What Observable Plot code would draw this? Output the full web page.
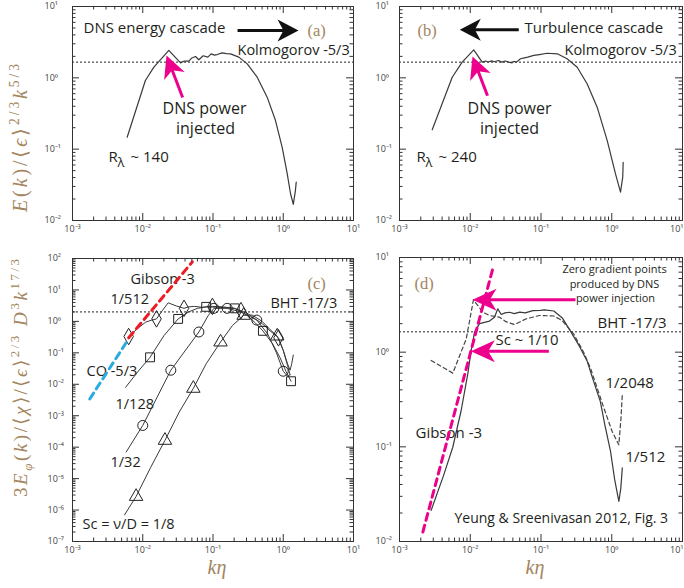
<!DOCTYPE html>
<html><head><meta charset="utf-8">
<script src="https://cdn.jsdelivr.net/npm/d3@7"></script>
<script src="https://cdn.jsdelivr.net/npm/@observablehq/plot@0.6"></script>
<style>
html,body{margin:0;padding:0;background:#fff;}
#wrap{position:relative;width:684px;height:588px;overflow:hidden;font-family:"Open Sans",sans-serif;}
.pl{position:absolute;}
</style></head>
<body><div id="wrap"></div>
<script>
// ---------- data ----------
const xDecades = [1e-3, 1e-2, 1e-1, 1, 10];
const yDecadesAB = [1e-2, 1e-1, 1, 10];
const yDecadesC = [1e-7, 1e-6, 1e-5, 1e-4, 1e-3, 1e-2, 1e-1, 1, 10, 100];
const yDecadesD = [1e-2, 1e-1, 1, 10];

// panel (a) compensated energy spectrum, R_lambda ~ 140
const specA = [[0.006,0.147],[0.0109,0.918],[0.0144,1.41],[0.0235,2.42],[0.0345,1.62],[0.039,1.72],[0.0453,1.71],[0.05,1.9],[0.0564,1.99],[0.0628,1.79],[0.0725,2.04],[0.0843,1.95],[0.0942,2.17],[0.105,2.08],[0.1147,2.12],[0.135,2.24],[0.155,2.18],[0.1775,2.17],[0.233,1.95],[0.307,1.57],[0.426,1.02],[0.59,0.536],[0.776,0.252],[0.966,0.106],[1.14,0.045],[1.27,0.0237],[1.39,0.0168],[1.49,0.0263],[1.53,0.0345]];
// panel (b) R_lambda ~ 240
const specB = [[0.0029,0.187],[0.00556,1.02],[0.00769,1.66],[0.0112,2.47],[0.01475,1.66],[0.0165,1.72],[0.018,1.67],[0.02,1.73],[0.022,1.68],[0.025,1.75],[0.028,1.66],[0.031,1.72],[0.035,1.66],[0.039,1.62],[0.0413,1.7],[0.045,1.66],[0.0513,1.85],[0.058,1.9],[0.065,1.95],[0.079,2.06],[0.095,2.12],[0.1225,2.21],[0.17,2.17],[0.234,1.85],[0.325,1.41],[0.45,0.82],[0.622,0.388],[0.863,0.132],[1.13,0.045],[1.33,0.025],[1.43,0.0405],[1.45,0.0656]];
const kolmogorovLevel = [1.66];

// panel (c) scalar spectra for several Sc
const c512 = [[0.0063,0.33],[0.0085,0.6],[0.011,0.95],[0.0135,1.1],[0.0157,1.2],[0.019,2.2],[0.023,3.9],[0.03,3.1],[0.0387,2.6],[0.045,2.9],[0.055,3.0],[0.07,2.8],[0.098,3.0],[0.14,2.9],[0.2,2.6],[0.25,2.2],[0.32,1.7],[0.4,1.2],[0.5,0.85],[0.65,0.5],[0.855,0.3],[1.0,0.12],[1.15,0.045],[1.25,0.028],[1.32,0.045],[1.39,0.085]];
const c512Marks = [[0.0063,0.33],[0.0157,1.2],[0.0387,2.6],[0.098,3.0],[0.25,2.2],[0.855,0.3]];
const c128 = [[0.0057,0.008],[0.0085,0.025],[0.0127,0.072],[0.02,0.35],[0.0319,1.2],[0.045,2.0],[0.06,2.6],[0.08,2.9],[0.12,2.8],[0.204,2.6],[0.3,1.6],[0.4,0.9],[0.513,0.5],[0.7,0.2],[0.9,0.07],[1.1,0.025],[1.29,0.0125]];
const c128Marks = [[0.0127,0.072],[0.0319,1.2],[0.08,2.9],[0.204,2.6],[0.513,0.5],[1.29,0.0125]];
const c32 = [[0.0058,7e-5],[0.01,0.00049],[0.0251,0.028],[0.063,0.46],[0.085,1.5],[0.103,2.6],[0.159,2.6],[0.25,2.0],[0.42,1.1],[0.6,0.4],[0.8,0.1],[1.0,0.026],[1.15,0.018],[1.25,0.02]];
const c32Marks = [[0.01,0.00049],[0.0251,0.028],[0.063,0.46],[0.103,2.6],[0.159,2.6],[0.42,1.1],[1.0,0.026]];
const c8 = [[0.0055,7e-7],[0.00804,2.7e-6],[0.013,2.3e-5],[0.0207,1.64e-4],[0.033,1.3e-3],[0.0525,0.0074],[0.08,0.045],[0.128,0.22],[0.19,0.75],[0.273,1.55],[0.36,1.6],[0.5,1.0],[0.65,0.55],[0.82,0.34],[1.0,0.12],[1.15,0.04],[1.25,0.02]];
const c8Marks = [[0.00804,2.7e-6],[0.0207,1.64e-4],[0.0525,0.0074],[0.128,0.22],[0.273,1.55],[0.82,0.34]];
const gibsonC = [[0.0063,0.3],[0.0508,78]];
const coC = [[0.00176,0.0034],[0.0058,0.21]];
const bhtLevelC = [2.0];

// panel (d)
const d512 = [[0.0028,0.0213],[0.0042,0.05],[0.00566,0.099],[0.00744,0.242],[0.00923,0.59],[0.0103,1.04],[0.0115,1.63],[0.0135,2.0],[0.0187,2.13],[0.022,2.34],[0.0245,2.87],[0.0274,2.5],[0.031,2.6],[0.0359,2.64],[0.042,2.55],[0.05,2.65],[0.06,2.6],[0.0766,2.75],[0.098,2.77],[0.112,2.8],[0.152,2.72],[0.2,2.3],[0.261,1.67],[0.35,1.15],[0.45,0.8],[0.55,0.5],[0.69,0.3],[0.8,0.17],[0.96,0.09],[1.1,0.045],[1.26,0.0265],[1.34,0.036],[1.41,0.06]];
const d2048 = [[0.0028,0.817],[0.00566,0.6],[0.00877,1.38],[0.0111,3.57],[0.0151,2.64],[0.0187,2.44],[0.0259,2.34],[0.032,2.1],[0.0422,1.96],[0.0618,2.25],[0.0953,2.44],[0.152,2.41],[0.2,2.15],[0.291,1.55],[0.4,1.0],[0.5,0.68],[0.77,0.26],[1.01,0.146],[1.15,0.12],[1.26,0.105],[1.35,0.2],[1.41,0.357]];
const gibsonD = [[0.00214,0.0126],[0.0208,7.6]];
const bhtLevelD = [1.64];

// arrow tips (data coordinates)
const tipA_black = [1.65, 4.6], tipA_mag = [0.0218, 2.06];
const tipB_black = [0.00711, 4.71], tipB_mag = [0.01076, 1.99];
const tipD_zero = [0.01076, 3.57], tipD_sc = [0.0102, 1.02];

// ---------- helpers ----------
const INK = "#231f20", TAN = "#a3845c", MAG = "#ec008c";
const supDigits = "⁰¹²³⁴⁵⁶⁷⁸⁹";
const fmt = d => { const e = Math.round(Math.log10(d)); return "10" + String(e).replace("-", "⁻").replace(/\d/g, c => supDigits[+c]); };
function minor(dom) {
  const out = [];
  for (let e = Math.round(Math.log10(dom[0])); e < Math.round(Math.log10(dom[1])); e++)
    for (let m = 2; m <= 9; m++) out.push(m * Math.pow(10, e));
  return out;
}
function note(t, dx, dy, o = {}) {
  return Plot.text([t], {text: d => d, frameAnchor: "top-left", dx, dy, textAnchor: "start", lineAnchor: "middle", fontSize: 15, fill: INK, fontFamily: "Open Sans", ...o});
}
function tag(t, dx, dy) {
  return note(t, dx, dy, {fontFamily: "Liberation Serif", fontSize: 16.5, fill: TAN});
}
function arrow(tip, {length, rotate, color, width = 3, headLen = 20, headHalf = 10}) {
  const shaft = {draw(ctx, l) { ctx.moveTo(0, 0); ctx.lineTo(0, -l + headLen * 0.6); }};
  const head = {draw(ctx, l) { ctx.moveTo(0, -l); ctx.lineTo(-headHalf, -l + headLen); ctx.lineTo(0, -l + headLen * 0.72); ctx.lineTo(headHalf, -l + headLen); ctx.closePath(); }};
  return [
    Plot.vector([tip], {x: d => d[0], y: d => d[1], anchor: "end", length, rotate, shape: shaft, stroke: color, strokeWidth: width, strokeLinecap: "butt", fill: "none"}),
    Plot.vector([tip], {x: d => d[0], y: d => d[1], anchor: "end", length, rotate, shape: head, fill: color, stroke: "none"})
  ];
}
const ln = (data, o = {}) => Plot.line(data, {x: d => d[0], y: d => d[1], stroke: "#3a3a3a", strokeWidth: 1.2, ...o});
const mk = (data, symbol) => Plot.dot(data, {x: d => d[0], y: d => d[1], symbol, r: 5, stroke: "#222", strokeWidth: 1, fill: "none"});

function panel({yd, yTicks, w, h, ml, mr, mt, mb, yPad, lastEnd, marks}) {
  const xd = [1e-3, 10];
  const iw = w - ml - mr, ih = h - mt - mb;
  const xm = minor(xd), ym = minor(yd);
  const axOpt = {tickSize: 0, tickPadding: 5, tickFormat: fmt, label: null, fontSize: 9, fill: "#444"};
  const xAxes = lastEnd
    ? [Plot.axisX({...axOpt, ticks: xDecades.slice(0, -1)}), Plot.axisX({...axOpt, ticks: xDecades.slice(-1), textAnchor: "end", dx: 1})]
    : [Plot.axisX({...axOpt, ticks: xDecades})];
  return Plot.plot({
    width: w, height: h, marginLeft: ml, marginRight: mr, marginTop: mt, marginBottom: mb,
    style: {background: "transparent", overflow: "visible", fontFamily: "Open Sans, sans-serif"},
    x: {type: "log", domain: xd},
    y: {type: "log", domain: yd},
    marks: [
      ...marks,
      Plot.frame({stroke: "#333", strokeWidth: 1}),
      Plot.tickX(xDecades, {x: d => d, insetTop: ih - 7, stroke: "#333"}),
      Plot.tickX(xDecades, {x: d => d, insetBottom: ih - 7, stroke: "#333"}),
      Plot.tickX(xm, {x: d => d, insetTop: ih - 3.5, stroke: "#333"}),
      Plot.tickX(xm, {x: d => d, insetBottom: ih - 3.5, stroke: "#333"}),
      Plot.tickY(yTicks, {y: d => d, insetRight: iw - 7, stroke: "#333"}),
      Plot.tickY(yTicks, {y: d => d, insetLeft: iw - 7, stroke: "#333"}),
      Plot.tickY(ym, {y: d => d, insetRight: iw - 3.5, stroke: "#333"}),
      Plot.tickY(ym, {y: d => d, insetLeft: iw - 3.5, stroke: "#333"}),
      ...xAxes,
      Plot.axisY({...axOpt, ticks: yTicks, tickPadding: yPad, textAnchor: "start"})
    ]
  });
}

const dotted = (lvl) => Plot.ruleY(lvl, {y: d => d, stroke: "#222", strokeWidth: 1, strokeDasharray: "2,2"});

const plots = [
  {left: 0, top: 0, p: panel({yd: [1e-2, 10], yTicks: yDecadesAB, w: 360, h: 240, ml: 72, mr: 7, mt: 6, mb: 20, yPad: 28, marks: [
    dotted(kolmogorovLevel),
    ln(specA),
    note("DNS energy cascade", 11, 22, {fontSize: 15}),
    tag("(a)", 235, 24),
    note("Kolmogorov -5/3", 165, 44, {fontSize: 14.5}),
    note("DNS power", 132, 102, {textAnchor: "middle", fontSize: 16}),
    note("injected", 133, 122, {textAnchor: "middle", fontSize: 16}),
    note("R", 36, 151), note("λ", 45, 156, {fontSize: 13}), note("~ 140", 58, 151),
    ...arrow(tipA_black, {length: 61, rotate: 90, color: "#111", headLen: 21, headHalf: 11}),
    ...arrow(tipA_mag, {length: 45, rotate: -21, color: MAG, headLen: 22, headHalf: 11})
  ]})},
  {left: 342, top: 0, p: panel({yd: [1e-2, 10], yTicks: yDecadesAB, w: 342, h: 240, ml: 57, mr: 2, mt: 6, mb: 20, yPad: 24, lastEnd: true, marks: [
    dotted(kolmogorovLevel),
    ln(specB),
    tag("(b)", 18, 24),
    note("Turbulence cascade", 125, 22, {fontSize: 15}),
    note("Kolmogorov -5/3", 165, 44, {fontSize: 14.5}),
    note("DNS power", 110, 102, {textAnchor: "middle", fontSize: 16}),
    note("injected", 110, 122, {textAnchor: "middle", fontSize: 16}),
    note("R", 17, 151), note("λ", 26, 156, {fontSize: 13}), note("~ 240", 39, 151),
    ...arrow(tipB_black, {length: 59, rotate: -90, color: "#111", headLen: 21, headHalf: 11}),
    ...arrow(tipB_mag, {length: 42, rotate: -21, color: MAG, headLen: 22, headHalf: 11})
  ]})},
  {left: 0, top: 240, p: panel({yd: [1e-7, 100], yTicks: yDecadesC, w: 360, h: 348, ml: 72, mr: 7, mt: 18, mb: 47, yPad: 25, marks: [
    dotted(bhtLevelC),
    note("Gibson -3", 58, 21, {fontSize: 14.5}),
    tag("(c)", 235, 25),
    note("1/512", 38, 41, {fontSize: 14.5}),
    note("BHT -17/3", 198, 45, {fontSize: 14.5}),
    note("CO -5/3", 14, 113, {fontSize: 14.5}),
    note("1/128", 43, 146, {fontSize: 14.5}),
    note("1/32", 38, 204, {fontSize: 14.5}),
    note("Sc = ν/D = 1/8", 10, 266, {fontSize: 14.5}),
    ln(c512, {strokeWidth: 1}), ln(c128, {strokeWidth: 1}), ln(c32, {strokeWidth: 1}), ln(c8, {strokeWidth: 1}),
    mk(c512Marks, "diamond"), mk(c128Marks, "square"), mk(c32Marks, "circle"), mk(c8Marks, "triangle"),
    ln(gibsonC, {stroke: "#ed1c24", strokeWidth: 3, strokeDasharray: "7,5"}),
    ln(coC, {stroke: "#29abe2", strokeWidth: 3, strokeDasharray: "7,5"})
  ]})},
  {left: 342, top: 240, p: panel({yd: [1e-2, 10], yTicks: yDecadesD, w: 342, h: 348, ml: 57, mr: 2, mt: 17, mb: 47, yPad: 24, lastEnd: true, marks: [
    dotted(bhtLevelD),
    tag("(d)", 15, 26),
    note("Zero gradient points", 215, 12, {textAnchor: "middle", fontSize: 11}),
    note("produced by DNS", 215, 27, {textAnchor: "middle", fontSize: 11}),
    note("power injection", 216, 41, {textAnchor: "middle", fontSize: 11}),
    note("BHT -17/3", 198, 66),
    note("Sc ~ 1/10", 96, 83),
    note("1/2048", 206, 126),
    note("1/512", 226, 200),
    note("Gibson -3", 16, 176),
    note("Yeung & Sreenivasan 2012, Fig. 3", 55, 261, {fontSize: 14}),
    ln(d512),
    ln(d2048, {strokeDasharray: "4,3", stroke: "#444"}),
    ln(gibsonD, {stroke: MAG, strokeWidth: 3, strokeDasharray: "7,5"}),
    ...arrow(tipD_zero, {length: 103, rotate: -90, color: MAG, headLen: 24, headHalf: 11}),
    ...arrow(tipD_sc, {length: 78, rotate: -90, color: MAG, headLen: 24, headHalf: 11})
  ]})}
];

const wrap = document.getElementById("wrap");
for (const {left, top, p} of plots) {
  p.classList.add("pl");
  p.style.left = left + "px";
  p.style.top = top + "px";
  wrap.appendChild(p);
}

// axis titles (math) as real SVG text with tspans
const ov = d3.select(wrap).append("svg").attr("width", 684).attr("height", 588)
  .style("position", "absolute").style("left", "0px").style("top", "0px").style("pointer-events", "none");
function mathLabel(parts, x, y, rot, size, len) {
  const t = ov.append("text")
    .attr("transform", `translate(${x},${y}) rotate(${rot})`)
    .attr("text-anchor", "middle").attr("font-family", "Liberation Serif, serif")
    .attr("font-size", size).attr("fill", TAN);
  if (len) t.attr("textLength", len).attr("lengthAdjust", "spacing");
  let shift = 0;
  for (const [s, kind] of parts) {
    const target = kind === "sup" ? -0.42 * size : kind === "sub" ? 0.25 * size : 0;
    const ts = t.append("tspan").text(s).attr("dy", target - shift);
    shift = target;
    if (kind === "sup" || kind === "sub") ts.attr("font-size", size * 0.68);
    if (kind === "i" || kind === "sub") ts.attr("font-style", "italic");
  }
}
mathLabel([["E","i"],["(",""],["k","i"],[")/⟨",""],["ϵ","i"],["⟩",""],["2/3","sup"],["k","i"],["5/3","sup"]], 27, 138, -90, 20, 148);
mathLabel([["3",""],["E","i"],["φ","sub"],["(",""],["k","i"],[")/⟨",""],["χ","i"],["⟩/⟨",""],["ϵ","i"],["⟩",""],["2/3","sup"],[" ",""],["D","i"],["3","sup"],["k","i"],["17/3","sup"]], 27, 378, -90, 19, 238);
mathLabel([["kη","i"]], 217, 574, 0, 20, null);
mathLabel([["kη","i"]], 535, 574, 0, 20, null);
</script>
</body></html>
